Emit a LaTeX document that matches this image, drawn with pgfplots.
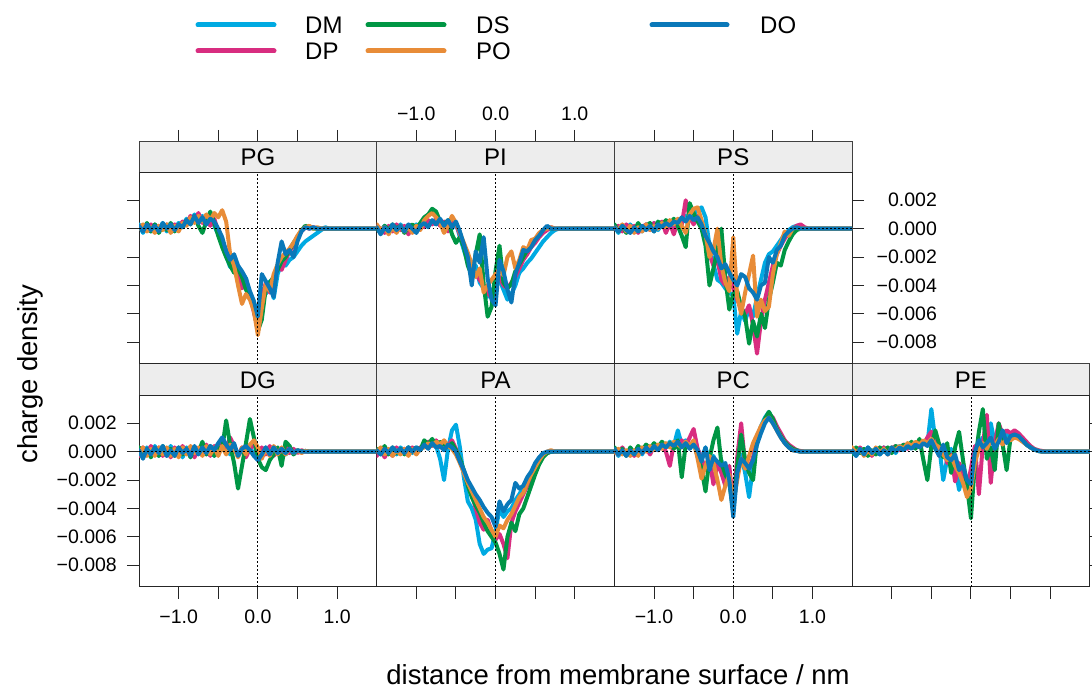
\documentclass[border=0pt]{standalone}
\usepackage{fontspec}
\setmainfont{Liberation Sans}
\usepackage{pgfplots}
\usepackage{pgfplotstable}
\pgfplotsset{compat=1.18}

\definecolor{cDM}{RGB}{0,170,226}
\definecolor{cDP}{RGB}{216,45,128}
\definecolor{cDS}{RGB}{0,150,68}
\definecolor{cPO}{RGB}{232,140,56}
\definecolor{cDO}{RGB}{10,120,185}

\pgfplotstableread{
x DM DP DS PO DO
-1.50 0.3 0.1 0.2 0.0 0.2
-1.45 -0.3 0.2 -0.1 0.3 -0.2
-1.40 0.2 -0.1 0.4 -0.2 0.3
-1.35 -0.2 0.3 -0.2 0.1 -0.1
-1.30 0.3 -0.2 0.3 -0.3 0.2
-1.25 -0.1 0.2 -0.3 0.2 -0.2
-1.20 0.4 0.0 0.2 -0.1 0.4
-1.15 -0.2 0.3 -0.1 0.3 0.0
-1.10 0.3 -0.2 0.4 -0.3 0.3
-1.05 0.0 0.3 -0.2 0.2 -0.1
-1.00 0.4 0.1 0.3 -0.2 0.3
-0.95 0.2 0.5 0.1 0.4 0.1
-0.90 0.7 0.3 0.6 0.2 0.6
-0.85 0.4 0.9 0.3 0.8 0.3
-0.80 1.0 0.5 0.9 0.4 0.9
-0.75 0.5 1.1 0.2 0.9 0.4
-0.70 0.9 0.4 -0.3 0.5 0.8
-0.65 0.3 0.8 0.5 1.0 0.3
-0.60 0.8 0.2 1.2 0.6 0.7
-0.55 0.2 0.7 0.4 1.1 0.5
-0.50 -0.4 -0.2 -0.5 0.8 0.0
-0.45 -1.2 -0.9 -1.3 1.3 -0.6
-0.40 -1.9 -1.5 -2.0 0.5 -1.6
-0.35 -2.7 -2.3 -2.6 -1.8 -2.2
-0.30 -2.4 -2.9 -3.1 -2.6 -1.8
-0.25 -3.4 -3.2 -2.8 -4.0 -2.6
-0.20 -3.9 -4.2 -3.4 -5.3 -3.0
-0.15 -3.5 -3.8 -4.3 -4.6 -3.5
-0.10 -4.8 -4.6 -4.8 -5.0 -4.4
-0.05 -5.6 -5.9 -5.7 -5.8 -5.1
0.00 -6.6 -7.0 -7.2 -7.5 -6.2
0.05 -4.2 -5.0 -6.4 -5.6 -3.2
0.10 -4.6 -3.8 -4.2 -3.9 -3.7
0.15 -3.7 -4.5 -3.8 -4.4 -4.2
0.20 -4.9 -3.8 -3.4 -3.2 -4.8
0.25 -3.2 -2.6 -2.9 -2.5 -2.4
0.30 -2.4 -2.9 -2.3 -2.0 -0.9
0.35 -2.6 -2.2 -2.0 -1.7 -1.8
0.40 -2.2 -1.6 -1.5 -1.4 -1.5
0.45 -2.0 -1.2 -1.0 -1.0 -2.0
0.50 -1.6 -0.6 -0.6 -0.5 -0.9
0.55 -1.2 -0.2 -0.1 -0.1 -0.2
0.60 -0.9 0.1 0.2 0.1 0.1
0.65 -0.7 0.0 0.1 0.2 0.0
0.70 -0.5 0.1 0.0 0.0 0.1
0.75 -0.3 0.0 0.0 0.1 0.0
0.80 -0.1 0.0 0.0 0.0 0.0
0.85 0.1 0.0 0.0 0.0 0.0
0.90 0.0 0.0 0.0 0.0 0.0
1.50 0.0 0.0 0.0 0.0 0.0
}\tPG

\pgfplotstableread{
x DM DP DS PO DO
-1.50 0.1 0.2 0.0 0.3 0.1
-1.45 -0.2 0.0 -0.3 -0.1 -0.4
-1.40 0.2 -0.3 0.2 0.1 0.1
-1.35 -0.3 0.2 -0.1 -0.4 -0.2
-1.30 0.1 -0.2 0.3 0.1 0.3
-1.25 -0.2 0.3 0.0 -0.3 -0.1
-1.20 0.3 -0.1 0.2 0.2 0.2
-1.15 -0.1 0.2 -0.3 -0.2 -0.2
-1.10 0.2 -0.4 0.1 0.1 0.3
-1.05 -0.2 0.1 0.3 -0.3 0.0
-1.00 0.3 -0.2 0.0 0.2 -0.3
-0.95 0.0 0.3 0.4 -0.1 0.2
-0.90 0.4 0.1 0.8 0.6 0.4
-0.85 0.2 0.6 1.0 0.9 0.1
-0.80 0.5 0.3 1.4 1.1 0.6
-0.75 0.3 0.7 1.2 0.8 0.3
-0.70 0.6 0.2 0.5 0.4 0.7
-0.65 0.2 0.5 0.3 -0.3 0.2
-0.60 0.5 -0.2 0.6 0.2 0.6
-0.55 0.0 0.8 -0.4 0.9 0.1
-0.50 0.4 0.3 -1.0 0.4 0.5
-0.45 -0.6 -0.4 -0.6 -0.3 -0.2
-0.40 -1.5 -1.2 -1.3 -1.0 -1.1
-0.35 -2.4 -2.1 -2.6 -1.7 -2.0
-0.30 -3.0 -2.8 -3.3 -2.5 -4.0
-0.25 -2.6 -3.2 -1.8 -3.4 -1.6
-0.20 -3.8 -3.6 -0.4 -2.8 -2.4
-0.15 -4.2 -4.0 -3.9 -4.5 -0.6
-0.10 -4.8 -4.5 -6.2 -4.0 -3.5
-0.05 -4.4 -4.9 -5.5 -3.6 -5.0
0.00 -4.0 -3.7 -3.0 -3.2 -5.4
0.05 -3.6 -3.4 -1.2 -2.8 -2.2
0.10 -4.3 -4.0 -3.8 -3.3 -3.0
0.15 -5.0 -4.2 -4.2 -2.0 -4.3
0.20 -4.6 -3.8 -3.9 -1.6 -5.2
0.25 -4.0 -3.4 -3.0 -2.8 -3.2
0.30 -3.1 -2.8 -2.5 -2.2 -2.4
0.35 -2.8 -2.2 -2.0 -1.3 -1.5
0.40 -2.4 -1.8 -1.5 -1.5 -1.6
0.45 -2.1 -1.3 -1.2 -0.8 -1.3
0.50 -1.7 -1.0 -0.8 -0.7 -0.8
0.55 -1.3 -0.6 -0.4 -0.3 -0.5
0.60 -0.9 -0.3 -0.1 -0.1 -0.1
0.65 -0.6 -0.1 0.1 0.0 0.2
0.70 -0.3 0.1 0.0 0.1 0.0
0.75 -0.1 0.0 0.0 0.0 0.0
0.80 0.0 0.0 0.0 0.0 0.0
1.50 0.0 0.0 0.0 0.0 0.0
}\tPI

\pgfplotstableread{
x DM DP DS PO DO
-1.50 0.2 0.0 0.3 0.1 0.1
-1.45 -0.3 0.2 -0.2 -0.1 -0.2
-1.40 0.1 -0.2 0.2 0.3 0.2
-1.35 -0.2 0.3 -0.3 -0.2 -0.1
-1.30 0.3 -0.1 0.1 0.2 -0.3
-1.25 -0.1 0.2 -0.2 -0.3 0.1
-1.20 0.2 -0.3 0.4 0.1 -0.2
-1.15 -0.2 0.1 -0.1 -0.2 0.2
-1.10 0.3 0.3 0.2 0.3 -0.1
-1.05 0.0 -0.1 0.4 -0.1 0.2
-1.00 0.4 0.4 -0.2 0.2 -0.2
-0.95 -0.1 0.1 0.5 0.0 0.3
-0.90 0.3 0.5 0.2 0.4 0.1
-0.85 0.1 -0.3 0.6 0.1 0.4
-0.80 0.5 0.4 0.3 0.6 0.2
-0.75 0.2 -0.4 0.7 0.3 0.5
-0.70 0.6 0.5 0.2 0.7 0.4
-0.65 0.4 0.3 -0.5 0.2 0.8
-0.60 0.9 2.0 -1.3 -0.3 0.5
-0.55 0.6 0.8 1.8 1.0 0.9
-0.50 1.0 0.3 1.1 1.4 0.6
-0.45 1.3 0.9 0.5 1.5 0.8
-0.40 1.5 0.2 0.0 0.6 0.3
-0.35 0.8 -0.6 -1.2 -0.4 -0.5
-0.30 -1.2 -1.8 -4.0 -2.0 -1.0
-0.25 -2.5 -2.6 -2.8 -1.5 -1.6
-0.20 -3.6 -2.2 -1.5 0.0 -2.0
-0.15 -3.8 -3.6 0.0 -2.6 -2.8
-0.10 -4.2 -4.0 -3.5 -3.8 -2.5
-0.05 -4.5 -3.4 -5.7 -4.4 -3.1
0.00 -4.7 -4.2 -4.6 -0.6 -3.6
0.05 -7.4 -5.0 -4.4 -4.8 -4.0
0.10 -5.8 -5.6 -5.5 -6.0 -3.2
0.15 -6.5 -6.0 -6.2 -4.5 -3.4
0.20 -5.6 -5.4 -8.1 -3.2 -4.2
0.25 -6.2 -6.8 -6.5 -1.9 -4.5
0.30 -4.8 -8.8 -7.6 -6.2 -5.0
0.35 -3.6 -6.5 -6.0 -5.0 -4.0
0.40 -2.4 -5.0 -7.0 -5.8 -3.8
0.45 -1.8 -3.8 -5.0 -5.5 -2.0
0.50 -1.6 -2.6 -3.8 -3.2 -2.4
0.55 -1.2 -1.8 -2.4 -1.8 -1.5
0.60 -0.8 -1.2 -2.6 -1.0 -1.2
0.65 -0.4 -0.7 -1.5 -0.2 -0.5
0.70 -0.1 -0.3 -0.9 -0.5 -0.2
0.75 0.1 0.0 -0.4 0.0 0.0
0.80 0.2 0.2 -0.1 0.1 0.1
0.85 0.1 0.3 0.0 0.0 0.0
0.90 0.0 0.1 0.0 0.0 0.0
0.95 0.0 0.0 0.0 0.0 0.0
1.50 0.0 0.0 0.0 0.0 0.0
}\tPS

\pgfplotstableread{
x DM DP DS PO DO
-1.50 0.2 -0.3 0.3 -0.2 0.1
-1.45 -0.4 0.3 -0.2 0.3 -0.5
-1.40 0.3 -0.2 0.2 -0.3 0.2
-1.35 -0.2 0.4 -0.4 0.2 -0.2
-1.30 0.4 -0.1 0.1 -0.3 0.3
-1.25 -0.3 0.3 -0.3 0.3 -0.1
-1.20 0.1 -0.3 0.4 -0.2 0.4
-1.15 -0.3 0.2 -0.1 0.3 -0.3
-1.10 0.4 -0.4 0.2 -0.3 0.1
-1.05 -0.1 0.3 -0.3 0.2 -0.3
-1.00 0.2 -0.2 0.3 -0.4 0.3
-0.95 -0.4 0.4 -0.2 0.3 -0.1
-0.90 0.3 -0.1 0.2 -0.2 0.2
-0.85 -0.2 0.3 -0.4 0.4 -0.3
-0.80 0.3 -0.4 0.3 -0.1 0.4
-0.75 -0.1 0.2 -0.1 0.3 -0.2
-0.70 0.4 -0.2 0.7 -0.3 0.3
-0.65 -0.2 0.5 -0.2 0.4 -0.1
-0.60 0.3 -0.3 0.4 -0.2 0.4
-0.55 -0.3 0.4 -0.3 0.3 0.1
-0.50 0.5 -0.1 0.3 -0.3 0.6
-0.45 0.1 0.6 0.2 0.4 1.0
-0.40 0.4 0.2 2.2 -0.2 0.5
-0.35 -0.2 1.0 0.5 0.5 0.1
-0.30 0.3 0.4 -0.8 0.2 0.6
-0.25 -0.3 -0.3 -2.6 -0.4 -0.3
-0.20 0.2 0.3 -1.0 0.3 0.2
-0.15 -0.2 -0.4 0.6 -0.2 0.4
-0.10 0.4 0.2 2.3 0.5 0.1
-0.05 -0.3 0.6 1.0 0.8 -0.3
0.00 0.2 -0.3 -0.5 0.3 -0.6
0.05 -0.4 0.3 -1.1 -0.5 -0.2
0.10 0.3 -0.2 -1.3 0.2 0.3
0.15 -0.2 0.4 -0.6 -0.3 -0.2
0.20 0.3 -0.3 -0.2 0.4 0.3
0.25 -0.1 0.2 0.3 -0.2 -0.1
0.30 0.2 -0.3 -1.0 0.3 0.2
0.35 -0.2 0.4 0.7 -0.2 -0.1
0.40 0.1 -0.1 0.4 0.2 0.2
0.45 -0.1 0.2 -0.2 -0.1 -0.1
0.50 0.1 -0.1 0.1 0.1 0.1
0.55 0.0 0.1 0.0 -0.1 0.0
0.60 0.05 0.0 0.05 0.05 0.0
0.65 0.0 0.0 0.0 0.0 0.0
1.50 0.0 0.0 0.0 0.0 0.0
}\tDG

\pgfplotstableread{
x DM DP DS PO DO
-1.50 0.1 -0.3 0.2 0.0 0.1
-1.45 -0.2 0.2 -0.1 0.3 -0.2
-1.40 0.3 -0.4 0.4 -0.2 0.2
-1.35 -0.1 0.1 -0.2 0.2 -0.1
-1.30 0.2 -0.3 0.3 -0.3 0.3
-1.25 -0.2 0.3 -0.1 0.1 0.0
-1.20 0.3 -0.1 0.2 -0.2 0.2
-1.15 0.0 0.2 -0.2 0.2 -0.1
-1.10 0.3 -0.2 0.3 -0.3 0.3
-1.05 -0.1 0.3 0.0 0.2 0.0
-1.00 0.3 0.0 0.3 -0.2 0.3
-0.95 0.1 0.3 0.1 0.2 0.1
-0.90 0.6 0.4 0.8 0.3 0.5
-0.85 0.3 0.7 0.5 0.6 0.2
-0.80 0.7 0.4 0.9 0.4 0.6
-0.75 0.4 0.8 0.4 0.7 0.3
-0.70 -0.5 0.3 0.7 0.5 0.4
-0.65 -2.0 0.7 0.5 0.8 0.1
-0.60 0.2 0.4 0.3 0.4 0.5
-0.55 1.5 0.8 0.6 0.2 0.3
-0.50 1.9 0.2 0.1 -0.2 0.0
-0.45 0.3 -0.6 -0.5 -0.8 -0.7
-0.40 -1.8 -1.4 -1.3 -1.5 -1.3
-0.35 -3.5 -2.3 -2.4 -2.2 -2.0
-0.30 -4.0 -3.0 -3.2 -2.8 -2.5
-0.25 -4.8 -4.0 -3.8 -3.4 -3.0
-0.20 -6.5 -5.0 -4.3 -4.0 -3.4
-0.15 -7.2 -5.5 -5.0 -4.6 -3.9
-0.10 -6.9 -4.8 -5.6 -5.0 -4.3
-0.05 -6.8 -5.6 -6.0 -5.5 -4.6
0.00 -5.6 -6.2 -6.4 -6.0 -5.3
0.05 -4.0 -5.8 -7.2 -5.2 -3.5
0.10 -4.6 -6.5 -8.3 -5.4 -4.2
0.15 -4.2 -7.5 -6.0 -4.8 -3.7
0.20 -4.0 -5.0 -5.0 -4.4 -3.4
0.25 -3.4 -4.2 -5.6 -3.8 -2.2
0.30 -3.0 -3.6 -4.4 -3.2 -2.6
0.35 -2.5 -3.0 -4.0 -2.9 -2.4
0.40 -2.0 -2.4 -3.2 -2.2 -1.8
0.45 -1.5 -1.8 -2.4 -1.6 -1.4
0.50 -1.0 -1.2 -1.6 -1.1 -0.8
0.55 -0.6 -0.7 -0.9 -0.6 -0.4
0.60 -0.3 -0.3 -0.4 -0.2 -0.1
0.65 -0.1 -0.1 -0.1 0.0 0.0
0.70 0.0 0.0 0.0 0.1 0.0
0.75 0.0 0.0 0.0 0.0 0.0
1.50 0.0 0.0 0.0 0.0 0.0
}\tPA

\pgfplotstableread{
x DM DP DS PO DO
-1.50 0.2 0.1 0.3 -0.1 0.2
-1.45 -0.3 -0.2 -0.1 0.2 -0.2
-1.40 0.1 0.3 0.2 -0.2 0.1
-1.35 -0.2 -0.2 -0.3 0.1 -0.3
-1.30 0.2 0.1 0.3 -0.3 0.1
-1.25 -0.1 -0.3 -0.1 0.1 -0.2
-1.20 0.3 0.2 0.4 -0.3 0.2
-1.15 -0.2 -0.1 0.1 0.3 -0.1
-1.10 0.4 0.3 0.5 0.0 0.3
-1.05 0.1 -0.2 0.2 0.4 0.0
-1.00 0.5 0.4 0.6 0.1 0.4
-0.95 0.2 0.1 0.3 0.5 0.1
-0.90 0.6 0.5 0.7 0.2 0.5
-0.85 0.3 0.0 0.4 0.6 0.3
-0.80 0.7 -1.0 0.6 0.3 0.6
-0.75 0.4 0.6 0.2 0.7 0.4
-0.70 1.5 0.3 0.8 0.5 0.7
-0.65 0.5 0.8 -1.8 0.3 0.3
-0.60 0.8 0.4 0.5 0.7 0.6
-0.55 0.3 1.0 0.3 0.4 0.2
-0.50 0.7 1.6 0.6 0.8 0.5
-0.45 0.2 0.2 -0.3 -0.5 0.1
-0.40 -0.5 -0.5 -1.2 -1.9 -0.7
-0.35 0.3 -1.2 -2.8 -1.0 0.3
-0.30 -0.8 -0.6 -0.5 -0.3 -1.3
-0.25 -0.3 -2.3 0.8 -0.8 -0.4
-0.20 -1.2 -0.8 1.7 -2.0 -0.7
-0.15 -0.6 -1.5 -0.8 -3.4 -1.0
-0.10 -1.8 -2.4 -1.6 -2.4 -0.8
-0.05 -1.4 -1.0 -2.2 -1.6 -2.0
0.00 -4.0 -3.8 -4.2 -3.6 -4.6
0.05 -1.5 -0.4 -1.0 -2.0 -1.5
0.10 -0.2 2.0 1.2 -0.5 -0.5
0.15 -1.5 -1.0 -0.6 -1.2 -0.8
0.20 -3.2 -1.2 -1.5 -0.3 -1.2
0.25 -1.0 -0.4 -2.0 0.6 -0.6
0.30 1.0 1.0 0.8 1.2 0.5
0.35 1.8 1.6 1.5 1.8 1.3
0.40 2.4 2.2 2.3 2.2 2.0
0.45 2.8 2.6 2.8 2.4 2.4
0.50 2.2 2.4 2.3 2.0 2.0
0.55 1.6 1.8 1.6 1.5 1.5
0.60 1.1 1.3 1.1 1.0 1.0
0.65 0.7 0.8 0.7 0.6 0.6
0.70 0.4 0.5 0.4 0.3 0.3
0.75 0.2 0.3 0.2 0.1 0.1
0.80 0.1 0.1 0.1 0.05 0.05
0.85 0.0 0.05 0.0 0.0 0.0
0.90 0.0 0.0 0.0 0.0 0.0
1.50 0.0 0.0 0.0 0.0 0.0
}\tPC

\pgfplotstableread{
x DM DP DS PO DO
-1.50 0.2 0.1 -0.2 0.3 0.1
-1.45 -0.3 -0.2 0.3 -0.1 -0.3
-1.40 0.1 0.3 -0.1 0.2 0.2
-1.35 -0.2 -0.1 0.2 -0.3 -0.2
-1.30 0.3 0.2 -0.3 0.1 0.3
-1.25 -0.1 -0.3 0.1 -0.2 -0.1
-1.20 0.2 0.2 -0.2 0.3 0.2
-1.15 -0.2 -0.1 0.3 -0.1 -0.2
-1.10 0.3 0.3 0.0 0.2 0.1
-1.05 0.0 -0.2 0.3 -0.2 -0.2
-1.00 0.3 0.2 -0.1 0.3 0.3
-0.95 -0.1 0.4 0.4 0.1 0.0
-0.90 0.4 0.1 0.2 0.4 0.3
-0.85 0.2 0.5 0.5 0.2 0.1
-0.80 0.5 0.2 0.3 0.6 0.4
-0.75 0.3 0.6 0.7 0.4 0.2
-0.70 0.6 0.3 0.2 0.7 0.5
-0.65 0.4 0.8 0.9 0.5 0.3
-0.60 0.7 0.5 -0.6 0.8 0.6
-0.55 0.5 1.0 -2.0 0.6 0.4
-0.50 3.0 1.4 0.4 0.9 0.8
-0.45 0.8 0.6 1.5 0.5 0.2
-0.40 0.3 -0.3 0.5 0.3 -0.3
-0.35 -2.0 0.4 -0.4 -0.2 0.5
-0.30 -0.5 -0.8 0.6 -0.6 -0.4
-0.25 0.2 -0.2 -1.5 -0.3 -0.6
-0.20 -1.0 -2.1 0.3 -1.0 -0.2
-0.15 -2.7 -0.8 1.4 -1.5 -1.3
-0.10 -1.5 -1.6 -0.6 -2.2 -1.0
-0.05 -2.2 -2.5 -2.4 -3.2 -2.0
0.00 -1.8 -1.2 -4.7 -2.6 -2.3
0.05 -0.5 0.4 -0.8 -0.8 0.0
0.10 0.6 -3.0 1.4 0.2 0.8
0.15 1.0 0.5 3.0 0.6 0.3
0.20 0.4 2.6 -0.5 0.2 0.6
0.25 2.0 -2.2 0.3 0.8 1.0
0.30 0.6 0.6 -1.3 0.4 0.2
0.35 1.3 2.0 2.0 0.9 0.7
0.40 0.8 1.2 0.5 0.5 1.5
0.45 1.2 1.5 -1.3 0.9 0.6
0.50 1.0 1.3 1.0 0.8 1.1
0.55 1.2 1.5 1.2 1.0 1.2
0.60 1.0 1.3 1.0 0.9 1.1
0.65 0.8 1.0 0.8 0.7 0.8
0.70 0.5 0.7 0.5 0.5 0.5
0.75 0.3 0.4 0.3 0.3 0.3
0.80 0.15 0.2 0.15 0.15 0.15
0.85 0.05 0.1 0.05 0.05 0.05
0.90 0.0 0.05 0.0 0.0 0.0
0.95 0.0 0.0 0.0 0.0 0.0
1.50 0.0 0.0 0.0 0.0 0.0
}\tPE

\newcommand{\fticks}{\fontsize{19.5}{23}\selectfont}
\tikzset{refline/.style={black, line width=0.9pt, dash pattern=on 1.6pt off 2.4pt}}
\newcommand{\series}[1]{%
  \addplot[cDM] table[x=x,y=DM]{#1};
  \addplot[cDP] table[x=x,y=DP]{#1};
  \addplot[cDS] table[x=x,y=DS]{#1};
  \addplot[cPO] table[x=x,y=PO]{#1};
  \addplot[cDO] table[x=x,y=DO]{#1};
  \draw[refline] (axis cs:-1.5,0) -- (axis cs:1.5,0);
  \draw[refline] (axis cs:0,-9.53) -- (axis cs:0,3.92);
}

\pgfplotsset{
  panel/.style={
    scale only axis, width=237.7pt, height=191pt, anchor=south west,
    xmin=-1.5, xmax=1.5, ymin=-9.53, ymax=3.92,
    axis line style={black!85, line width=1pt},
    xtick=\empty, ytick=\empty, no markers,
    tick align=outside, major tick length=12pt,
    tick style={black!85, line width=1pt},
    ticklabel style={font=\fticks},
    xticklabel style={yshift=-7.5pt},
    every axis plot/.append style={line width=4pt, line join=round, line cap=round},
  },
  strip/.style={
    scale only axis, width=237.7pt, height=31pt, anchor=south west,
    xmin=-1.5, xmax=1.5, ymin=0, ymax=1,
    xtick=\empty, ytick=\empty,
    axis background/.style={fill=black!7},
    axis line style={black!75, line width=1pt},
    tick align=outside, major tick length=12pt,
    tick style={black!85, line width=1pt},
    ticklabel style={font=\fticks},
    xticklabel style={yshift=6pt},
  },
  xt/.style={xtick={-1,-0.5,0,0.5,1}},
  yt/.style={ytick={-8,-6,-4,-2,0,2}},
}

\begin{document}
\begin{tikzpicture}[x=1pt,y=1pt]
\useasboundingbox (0,0) rectangle (1092,688);

% ---- top row strips
\begin{axis}[strip, at={(139pt,515pt)}, xt, xtick pos=right, xticklabels={,,,,}]
\node[font=\fontsize{24}{28}\selectfont] at (axis cs:0,0.5) {PG};
\end{axis}
\begin{axis}[strip, at={(376.7pt,515pt)}, xt, xtick pos=right, xticklabel pos=right, xticklabels={−1.0,,0.0,,1.0}]
\node[font=\fontsize{24}{28}\selectfont] at (axis cs:0,0.5) {PI};
\end{axis}
\begin{axis}[strip, at={(614.4pt,515pt)}, xt, xtick pos=right, xticklabels={,,,,}]
\node[font=\fontsize{24}{28}\selectfont] at (axis cs:0,0.5) {PS};
\end{axis}

% ---- bottom row strips
\begin{axis}[strip, at={(139pt,292pt)}, height=32pt]
\node[font=\fontsize{24}{28}\selectfont] at (axis cs:0,0.5) {DG};
\end{axis}
\begin{axis}[strip, at={(376.7pt,292pt)}, height=32pt]
\node[font=\fontsize{24}{28}\selectfont] at (axis cs:0,0.5) {PA};
\end{axis}
\begin{axis}[strip, at={(614.4pt,292pt)}, height=32pt]
\node[font=\fontsize{24}{28}\selectfont] at (axis cs:0,0.5) {PC};
\end{axis}
\begin{axis}[strip, at={(852.1pt,292pt)}, height=32pt]
\node[font=\fontsize{24}{28}\selectfont] at (axis cs:0,0.5) {PE};
\end{axis}

% ---- top row panels
\begin{axis}[panel, at={(139pt,324pt)}, yt, ytick pos=left, yticklabels={,,,,,}]
\series{\tPG}
\end{axis}
\begin{axis}[panel, at={(376.7pt,324pt)}]
\series{\tPI}
\end{axis}
\begin{axis}[panel, at={(614.4pt,324pt)}, yt, ytick pos=right, yticklabel pos=right,
  yticklabels={−0.008,−0.006,−0.004,−0.002,0.000,0.002},
  yticklabel style={anchor=east, inner xsep=0pt, xshift=73pt}]
\series{\tPS}
\end{axis}

% ---- bottom row panels
\begin{axis}[panel, at={(139pt,101pt)}, xt, xtick pos=left, xticklabels={−1.0,,0.0,,1.0},
  yt, ytick pos=left, yticklabels={−0.008,−0.006,−0.004,−0.002,0.000,0.002},
  yticklabel style={anchor=east, inner xsep=0pt, xshift=-10pt}]
\series{\tDG}
\end{axis}
\begin{axis}[panel, at={(376.7pt,101pt)}, xt, xtick pos=left, xticklabels={,,,,}]
\series{\tPA}
\end{axis}
\begin{axis}[panel, at={(614.4pt,101pt)}, xt, xtick pos=left, xticklabels={−1.0,,0.0,,1.0}]
\series{\tPC}
\end{axis}
\begin{axis}[panel, at={(852.1pt,101pt)}, xt, xtick pos=left, xticklabels={,,,,},
  yt, ytick pos=right, yticklabels={,,,,,}]
\series{\tPE}
\end{axis}

% ---- axis titles
\node[rotate=90, font=\fontsize{27.5}{32}\selectfont] at (30,314) {charge density};
\node[anchor=base, font=\fontsize{27.5}{32}\selectfont] at (618,4) {distance from membrane surface / nm};

% ---- legend
\begin{scope}[line width=5pt, line cap=round]
\draw[cDM] (198,663) -- (274,663);
\draw[cDP] (198,637) -- (274,637);
\draw[cDS] (368,663) -- (444,663);
\draw[cPO] (368,637) -- (444,637);
\draw[cDO] (652,663) -- (727,663);
\end{scope}
\begin{scope}[font=\fontsize{24}{28}\selectfont, inner sep=0pt]
\node[anchor=west] at (305,663) {DM};
\node[anchor=west] at (305,637) {DP};
\node[anchor=west] at (476,663) {DS};
\node[anchor=west] at (476,637) {PO};
\node[anchor=west] at (760,663) {DO};
\end{scope}
\end{tikzpicture}
\end{document}
